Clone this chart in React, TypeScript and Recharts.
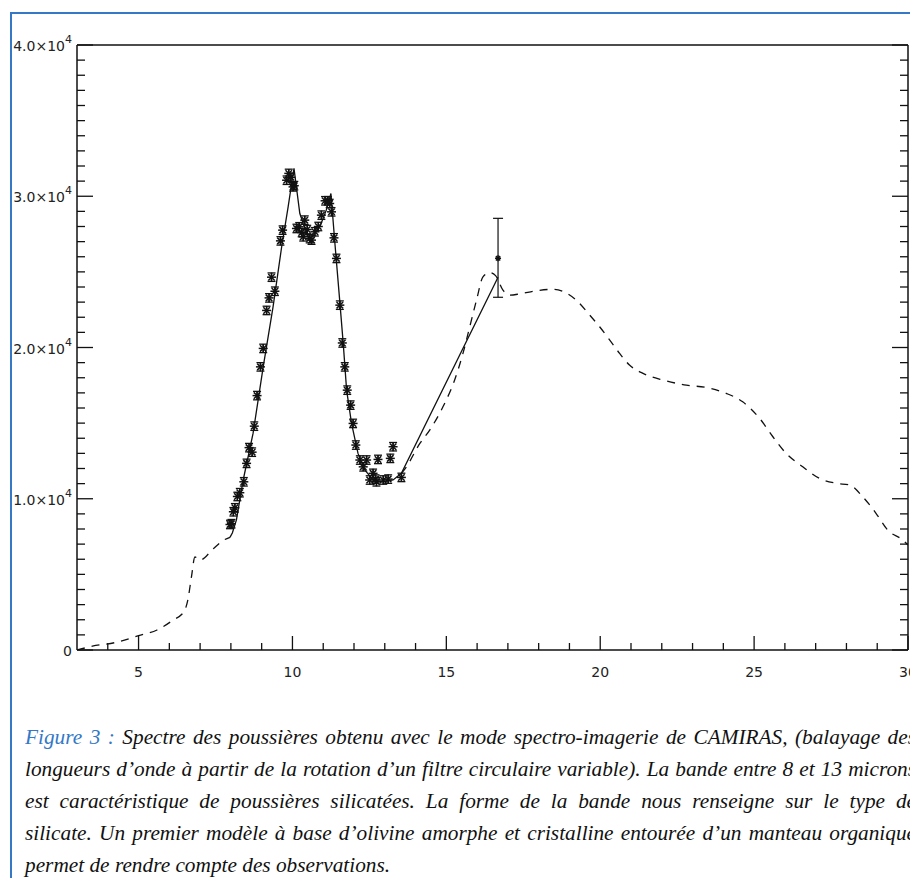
import { ComposedChart, Line, Scatter, ErrorBar, XAxis, YAxis } from "recharts";

// model spectrum (dashed), short-wavelength part
const modelLow = [
  { x: 3.0, y: 0 },
  { x: 3.5, y: 250 },
  { x: 4.3, y: 520 },
  { x: 5.0, y: 950 },
  { x: 5.6, y: 1320 },
  { x: 6.1, y: 1950 },
  { x: 6.48, y: 2550 },
  { x: 6.6, y: 3300 },
  { x: 6.72, y: 4850 },
  { x: 6.83, y: 6150 },
  { x: 7.0, y: 5950 },
  { x: 7.43, y: 6700 },
  { x: 7.8, y: 7300 },
  { x: 7.97, y: 7450 },
];

// model spectrum (dashed), long-wavelength part
const modelHigh = [
  { x: 13.54, y: 11680 },
  { x: 13.7, y: 12100 },
  { x: 14.14, y: 13660 },
  { x: 14.46, y: 14540 },
  { x: 14.89, y: 16080 },
  { x: 15.27, y: 17850 },
  { x: 15.54, y: 19610 },
  { x: 15.76, y: 21370 },
  { x: 15.98, y: 23130 },
  { x: 16.19, y: 24670 },
  { x: 16.41, y: 24950 },
  { x: 16.6, y: 24750 },
  { x: 16.84, y: 23790 },
  { x: 17.06, y: 23460 },
  { x: 17.4, y: 23550 },
  { x: 17.92, y: 23750 },
  { x: 18.5, y: 23850 },
  { x: 18.9, y: 23600 },
  { x: 19.22, y: 23130 },
  { x: 19.66, y: 22140 },
  { x: 19.98, y: 21370 },
  { x: 20.31, y: 20490 },
  { x: 20.63, y: 19610 },
  { x: 20.95, y: 18840 },
  { x: 21.39, y: 18290 },
  { x: 22.04, y: 17850 },
  { x: 22.8, y: 17510 },
  { x: 23.44, y: 17360 },
  { x: 24.09, y: 16970 },
  { x: 24.63, y: 16410 },
  { x: 25.18, y: 15310 },
  { x: 25.61, y: 14100 },
  { x: 26.04, y: 13000 },
  { x: 26.58, y: 12110 },
  { x: 27.12, y: 11350 },
  { x: 27.67, y: 11020 },
  { x: 28.1, y: 10910 },
  { x: 28.53, y: 10130 },
  { x: 28.96, y: 9040 },
  { x: 29.34, y: 7930 },
  { x: 29.83, y: 7270 },
  { x: 30.0, y: 6940 },
];

// fitted model (solid)
const fit = [
  { x: 7.97, y: 7450 },
  { x: 8.05, y: 7750 },
  { x: 8.18, y: 8600 },
  { x: 8.4, y: 11240 },
  { x: 8.72, y: 14320 },
  { x: 9.05, y: 18720 },
  { x: 9.37, y: 22690 },
  { x: 9.65, y: 26660 },
  { x: 9.86, y: 29300 },
  { x: 10.05, y: 31850 },
  { x: 10.24, y: 28860 },
  { x: 10.35, y: 28200 },
  { x: 10.56, y: 27100 },
  { x: 10.89, y: 27980 },
  { x: 11.1, y: 29080 },
  { x: 11.25, y: 30180 },
  { x: 11.38, y: 26880 },
  { x: 11.54, y: 23000 },
  { x: 11.65, y: 20270 },
  { x: 11.76, y: 17180 },
  { x: 11.92, y: 14980 },
  { x: 12.13, y: 13000 },
  { x: 12.35, y: 11900 },
  { x: 12.62, y: 11240 },
  { x: 12.95, y: 11120 },
  { x: 13.27, y: 11240 },
  { x: 13.54, y: 11680 },
  { x: 16.68, y: 24650 },
];

// CAMIRAS spectro-imaging measurements
const obs = [
  { x: 7.97, y: 8300, err: 280 },
  { x: 8.02, y: 8350, err: 280 },
  { x: 8.08, y: 9140, err: 280 },
  { x: 8.13, y: 9400, err: 280 },
  { x: 8.21, y: 10150, err: 280 },
  { x: 8.29, y: 10400, err: 280 },
  { x: 8.42, y: 11120, err: 280 },
  { x: 8.51, y: 12340, err: 280 },
  { x: 8.59, y: 13380, err: 280 },
  { x: 8.69, y: 13080, err: 280 },
  { x: 8.76, y: 14800, err: 280 },
  { x: 8.85, y: 16820, err: 280 },
  { x: 8.96, y: 18720, err: 280 },
  { x: 9.05, y: 19940, err: 280 },
  { x: 9.16, y: 22450, err: 280 },
  { x: 9.24, y: 23280, err: 280 },
  { x: 9.32, y: 24650, err: 280 },
  { x: 9.43, y: 23720, err: 280 },
  { x: 9.61, y: 27050, err: 280 },
  { x: 9.68, y: 27760, err: 280 },
  { x: 9.81, y: 31060, err: 280 },
  { x: 9.88, y: 31510, err: 280 },
  { x: 9.95, y: 31250, err: 280 },
  { x: 10.02, y: 30620, err: 280 },
  { x: 10.06, y: 30700, err: 280 },
  { x: 10.13, y: 27870, err: 280 },
  { x: 10.22, y: 27980, err: 280 },
  { x: 10.3, y: 27600, err: 280 },
  { x: 10.35, y: 27320, err: 280 },
  { x: 10.4, y: 28420, err: 280 },
  { x: 10.48, y: 27800, err: 280 },
  { x: 10.56, y: 27200, err: 280 },
  { x: 10.62, y: 27100, err: 280 },
  { x: 10.73, y: 27650, err: 280 },
  { x: 10.84, y: 28000, err: 280 },
  { x: 10.94, y: 28750, err: 280 },
  { x: 11.06, y: 29700, err: 280 },
  { x: 11.15, y: 29700, err: 280 },
  { x: 11.21, y: 29520, err: 280 },
  { x: 11.27, y: 28970, err: 280 },
  { x: 11.35, y: 27250, err: 280 },
  { x: 11.43, y: 25890, err: 280 },
  { x: 11.54, y: 22800, err: 280 },
  { x: 11.62, y: 20300, err: 280 },
  { x: 11.7, y: 18720, err: 280 },
  { x: 11.78, y: 17180, err: 280 },
  { x: 11.89, y: 16190, err: 280 },
  { x: 11.97, y: 14980, err: 280 },
  { x: 12.06, y: 13550, err: 280 },
  { x: 12.19, y: 12560, err: 280 },
  { x: 12.3, y: 12110, err: 280 },
  { x: 12.41, y: 12560, err: 280 },
  { x: 12.51, y: 11240, err: 280 },
  { x: 12.62, y: 11680, err: 280 },
  { x: 12.7, y: 11300, err: 280 },
  { x: 12.73, y: 11120, err: 280 },
  { x: 12.78, y: 12600, err: 280 },
  { x: 12.95, y: 11240, err: 280 },
  { x: 13.11, y: 11300, err: 280 },
  { x: 13.18, y: 12670, err: 280 },
  { x: 13.27, y: 13440, err: 280 },
  { x: 13.54, y: 11410, err: 280 },
];

// isolated point with large error bar
const lonePoint = [{ x: 16.68, y: 25900, err: [2580, 2640] }];

const xTicks = [4, 5, 6, 7, 8, 9, 10, 11, 12, 13, 14, 15, 16, 17, 18, 19, 20, 21, 22, 23, 24, 25, 26, 27, 28, 29, 30];
const xLabelTicks = [5, 10, 15, 20, 25, 30];
const yTicks = [
  0, 1000, 2000, 3000, 4000, 5000, 6000, 7000, 8000, 9000, 10000, 11000, 12000, 13000, 14000, 15000, 16000,
  17000, 18000, 19000, 20000, 21000, 22000, 23000, 24000, 25000, 26000, 27000, 28000, 29000, 30000, 31000,
  32000, 33000, 34000, 35000, 36000, 37000, 38000, 39000, 40000,
];
const yLabelTicks = [0, 10000, 20000, 30000, 40000];
const yLabelText = ["0", "1.0×10", "2.0×10", "3.0×10", "4.0×10"];

const captionLines = [
  "longueurs d’onde à partir de la rotation d’un filtre circulaire variable). La bande entre 8 et 13 microns",
  "est caractéristique de poussières silicatées. La forme de la bande nous renseigne sur le type de",
  "silicate. Un premier modèle à base d’olivine amorphe et cristalline entourée d’un manteau organique",
];

const INK = "#111";
const BLUE = "#3478c6";
const tickFont = { fontFamily: "DejaVu Sans, sans-serif", fontSize: 14, fill: "#222" };

const BottomTick = ({ x, y, payload }: any) => {
  const major = xLabelTicks.includes(payload.value);
  return (
    <g>
      <line x1={x} y1={y} x2={x} y2={y - (major ? 14 : 7)} stroke={INK} strokeWidth={1.3} />
      {major && (
        <text x={x} y={y + 27} textAnchor="middle" {...tickFont}>
          {payload.value}
        </text>
      )}
    </g>
  );
};

const TopTick = ({ x, y, payload }: any) => {
  const major = xLabelTicks.includes(payload.value);
  return <line x1={x} y1={y} x2={x} y2={y + (major ? 13 : 7)} stroke={INK} strokeWidth={1.3} />;
};

const LeftTick = ({ x, y, payload }: any) => {
  const i = yLabelTicks.indexOf(payload.value);
  const major = i >= 0;
  return (
    <g>
      <line x1={x} y1={y} x2={x + (major ? 16 : 8)} y2={y} stroke={INK} strokeWidth={1.3} />
      {major && (
        <text x={x - 5} y={y + 6} textAnchor="end" {...tickFont}>
          <tspan>{yLabelText[i]}</tspan>
          {i > 0 && (
            <tspan dy={-8} fontSize={11}>
              4
            </tspan>
          )}
        </text>
      )}
    </g>
  );
};

const RightTick = ({ x, y, payload }: any) => {
  const major = yLabelTicks.includes(payload.value);
  return <line x1={x} y1={y} x2={x - (major ? 16 : 8)} y2={y} stroke={INK} strokeWidth={1.3} />;
};

const Asterisk = ({ cx, cy, r = 4 }: any) => {
  if (cx == null || cy == null) return null;
  const d = r * 0.72;
  return (
    <g stroke={INK} strokeWidth={1.5}>
      <line x1={cx - r} y1={cy} x2={cx + r} y2={cy} />
      <line x1={cx} y1={cy - r} x2={cx} y2={cy + r} />
      <line x1={cx - d} y1={cy - d} x2={cx + d} y2={cy + d} />
      <line x1={cx - d} y1={cy + d} x2={cx + d} y2={cy - d} />
    </g>
  );
};

const lineStyle = {
  textAlign: "justify" as const,
  textAlignLast: "justify" as const,
  height: 32,
  overflow: "hidden",
};

export default function App() {
  return (
    <div
      style={{
        position: "absolute",
        left: 0,
        top: 0,
        width: 910,
        height: 878,
        overflow: "hidden",
        background: "#fff",
      }}
    >
      <div
        style={{
          position: "absolute",
          left: 10,
          top: 12,
          width: 920,
          height: 900,
          borderTop: `2px solid ${BLUE}`,
          borderLeft: `2px solid ${BLUE}`,
        }}
      />
      <div style={{ position: "absolute", left: 0, top: 0 }}>
        <ComposedChart width={910} height={700} margin={{ top: 40, right: 0, bottom: 20, left: 0 }}>
          <XAxis
            dataKey="x"
            type="number"
            domain={[3, 30]}
            ticks={xTicks}
            interval={0}
            allowDataOverflow
            height={30}
            tickSize={0}
            tickMargin={0}
            tickLine={false}
            axisLine={{ stroke: INK, strokeWidth: 1.5 }}
            tick={(p: any) => <BottomTick {...p} />}
          />
          <XAxis
            xAxisId="top"
            orientation="top"
            type="number"
            domain={[3, 30]}
            ticks={xTicks}
            interval={0}
            allowDataOverflow
            height={5}
            tickSize={0}
            tickMargin={0}
            tickLine={false}
            axisLine={{ stroke: INK, strokeWidth: 1.5 }}
            tick={(p: any) => <TopTick {...p} />}
          />
          <YAxis
            type="number"
            domain={[0, 40000]}
            ticks={yTicks}
            interval={0}
            allowDataOverflow
            width={77}
            tickSize={0}
            tickMargin={0}
            tickLine={false}
            axisLine={{ stroke: INK, strokeWidth: 1.5 }}
            tick={(p: any) => <LeftTick {...p} />}
          />
          <YAxis
            yAxisId="right"
            orientation="right"
            type="number"
            domain={[0, 40000]}
            ticks={yTicks}
            interval={0}
            allowDataOverflow
            width={2}
            tickSize={0}
            tickMargin={0}
            tickLine={false}
            axisLine={{ stroke: INK, strokeWidth: 1.5 }}
            tick={(p: any) => <RightTick {...p} />}
          />
          <Line
            data={modelLow}
            dataKey="y"
            type="monotone"
            stroke={INK}
            strokeWidth={1.3}
            strokeDasharray="8 7"
            dot={false}
            isAnimationActive={false}
          />
          <Line
            data={modelHigh}
            dataKey="y"
            type="monotone"
            stroke={INK}
            strokeWidth={1.3}
            strokeDasharray="8 7"
            dot={false}
            isAnimationActive={false}
          />
          <Line
            data={fit}
            dataKey="y"
            type="linear"
            stroke={INK}
            strokeWidth={1.3}
            dot={false}
            isAnimationActive={false}
          />
          <Scatter data={obs} dataKey="y" shape={(p: any) => <Asterisk {...p} r={4.5} />} isAnimationActive={false}>
            <ErrorBar dataKey="err" direction="y" width={4} stroke={INK} strokeWidth={1.3} isAnimationActive={false} />
          </Scatter>
          <Scatter data={lonePoint} dataKey="y" shape={(p: any) => <Asterisk {...p} r={3} />} isAnimationActive={false}>
            <ErrorBar dataKey="err" direction="y" width={5} stroke={INK} strokeWidth={1.2} isAnimationActive={false} />
          </Scatter>
        </ComposedChart>
      </div>
      <div
        style={{
          position: "absolute",
          left: 25,
          top: 721,
          width: 891,
          fontFamily: "'Liberation Serif', 'Times New Roman', serif",
          fontStyle: "italic",
          fontSize: 21.3,
          lineHeight: "32px",
          color: "#111",
        }}
      >
        <div style={lineStyle}>
          <span style={{ color: BLUE }}>Figure 3 :</span> Spectre des poussières obtenu avec le mode
          spectro-imagerie de CAMIRAS, (balayage des
        </div>
        {captionLines.map((line) => (
          <div key={line} style={lineStyle}>
            {line}
          </div>
        ))}
        <div style={{ height: 32 }}>permet de rendre compte des observations.</div>
      </div>
    </div>
  );
}
